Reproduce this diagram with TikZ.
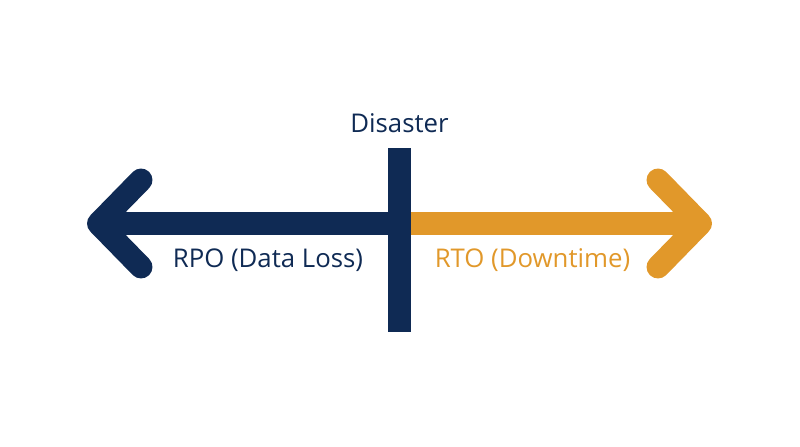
\documentclass[tikz,border=0pt]{standalone}
\usepackage{fontspec}
\setmainfont{Open Sans}
\definecolor{navy}{HTML}{0F2A54}
\definecolor{amber}{HTML}{E1982A}

\begin{document}
\begin{tikzpicture}[x=0.03cm,y=0.03cm,line join=round,every node/.style={inner sep=0pt},
  shaft/.style={line width=19.6pt},
  head/.style={line width=19.6pt,line cap=round,line join=round},
  lbl/.style={font=\fontsize{22}{26}\selectfont,anchor=base}]
  \useasboundingbox (0,0) rectangle (800,447);
  \coordinate (Lt) at (98.5,223.5);
  \coordinate (Lu) at (141,267);
  \coordinate (Ld) at (141,180);
  \coordinate (Rt) at (700.5,223.5);
  \coordinate (Ru) at (658,267);
  \coordinate (Rd) at (658,180);
  \coordinate (C) at (399.5,223.5);
  \coordinate (Btop) at (399.5,299);
  \coordinate (Bbot) at (399.5,115);
  \draw[shaft,amber] (C) -- (Rt);
  \draw[head,amber] (Ru) -- (Rt) -- (Rd);
  \draw[shaft,navy] (C) -- (Lt);
  \draw[head,navy] (Lu) -- (Lt) -- (Ld);
  \draw[shaft,navy] (Bbot) -- (Btop);
  \node[lbl,navy] (dis) at (399.5,314) {Disaster};
  \node[lbl,navy] (rpo) at (268,179) {RPO (Data Loss)};
  \node[lbl,amber] (rto) at (532.5,179) {RTO (Downtime)};
\end{tikzpicture}
\end{document}
